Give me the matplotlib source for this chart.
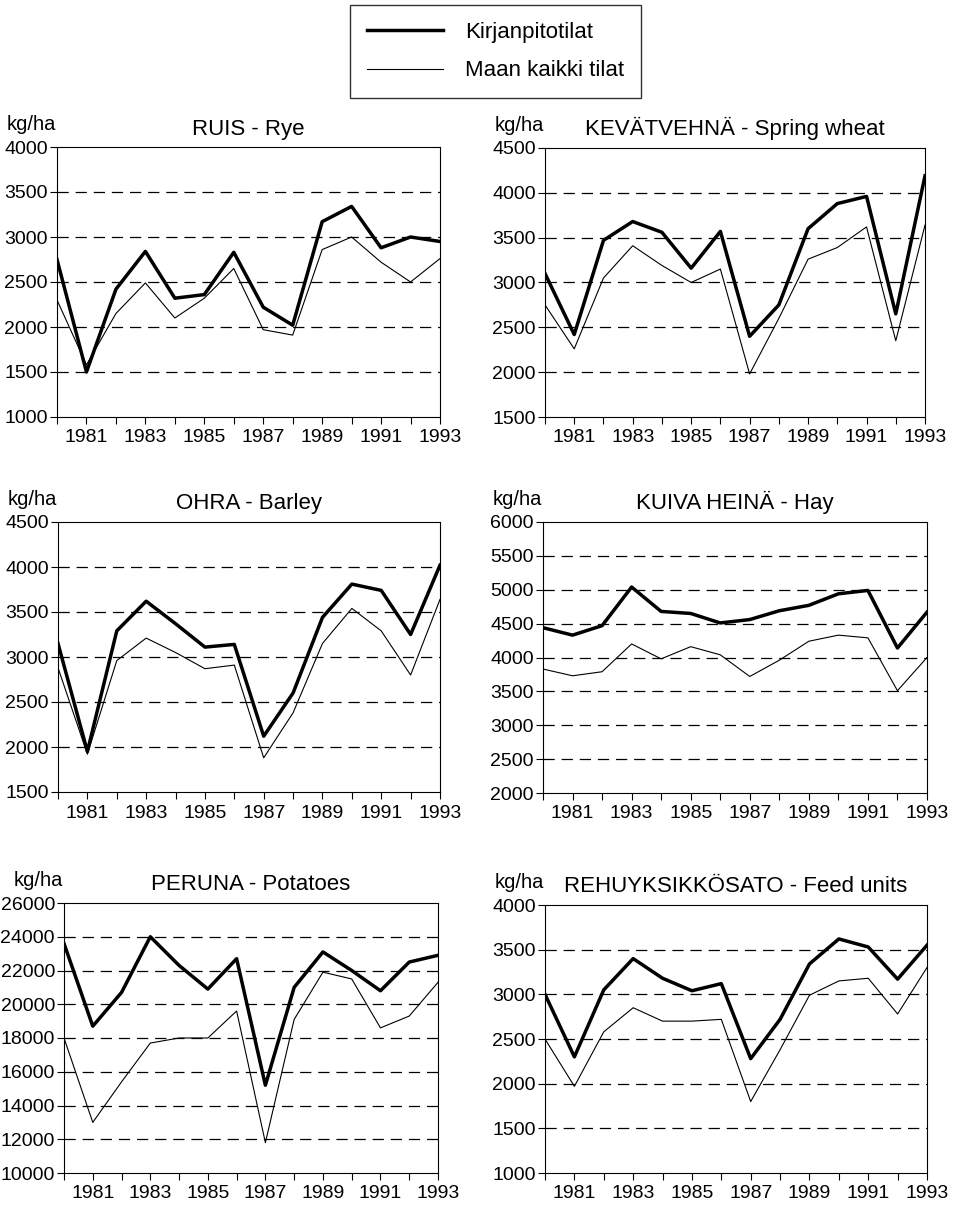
import matplotlib
matplotlib.use("Agg")
import matplotlib.pyplot as plt
from matplotlib.ticker import MultipleLocator

plt.rcParams['font.family'] = ['Liberation Sans', 'DejaVu Sans']

years = list(range(1980, 1994))
series_labels = ['Kirjanpitotilat', 'Maan kaikki tilat']

# RUIS - Rye
rye_book = [2750, 1500, 2420, 2840, 2320, 2360, 2830, 2220, 2020, 3170, 3340, 2880, 3000, 2950]
rye_all = [2300, 1580, 2150, 2490, 2100, 2320, 2650, 1970, 1910, 2860, 3000, 2720, 2500, 2760]

# KEVÄTVEHNÄ - Spring wheat
wheat_book = [3100, 2420, 3470, 3680, 3560, 3160, 3570, 2400, 2750, 3600, 3880, 3960, 2650, 4190]
wheat_all = [2750, 2260, 3050, 3410, 3190, 3000, 3150, 1980, 2600, 3260, 3390, 3620, 2350, 3640]

# OHRA - Barley
barley_book = [3150, 1950, 3290, 3620, 3370, 3110, 3140, 2120, 2600, 3440, 3810, 3740, 3250, 4020]
barley_all = [2880, 1920, 2960, 3210, 3050, 2870, 2910, 1880, 2380, 3150, 3540, 3290, 2800, 3640]

# KUIVA HEINÄ - Hay
hay_book = [4440, 4330, 4470, 5040, 4680, 4650, 4510, 4560, 4690, 4770, 4940, 4990, 4140, 4670]
hay_all = [3830, 3730, 3790, 4200, 3980, 4160, 4040, 3720, 3960, 4240, 4330, 4290, 3510, 4000]

# PERUNA - Potatoes
potato_book = [23600, 18700, 20700, 24000, 22300, 20900, 22700, 15200, 21000, 23100, 22000, 20800, 22500, 22900]
potato_all = [18000, 13000, 15400, 17700, 18000, 18000, 19600, 11800, 19100, 21900, 21500, 18600, 19300, 21300]

# REHUYKSIKKÖSATO - Feed units
feed_book = [3000, 2300, 3050, 3400, 3180, 3040, 3120, 2280, 2720, 3340, 3620, 3530, 3170, 3550]
feed_all = [2500, 1970, 2580, 2850, 2700, 2700, 2720, 1800, 2380, 2990, 3150, 3180, 2780, 3300]

panels = [
    ('RUIS - Rye', rye_book, rye_all, (1000, 4000), 500),
    ('KEVÄTVEHNÄ - Spring wheat', wheat_book, wheat_all, (1500, 4500), 500),
    ('OHRA - Barley', barley_book, barley_all, (1500, 4500), 500),
    ('KUIVA HEINÄ - Hay', hay_book, hay_all, (2000, 6000), 500),
    ('PERUNA - Potatoes', potato_book, potato_all, (10000, 26000), 2000),
    ('REHUYKSIKKÖSATO - Feed units', feed_book, feed_all, (1000, 4000), 500),
]

W, H = 959, 1206
# axes boxes in pixels: left, top, right, bottom
boxes = [
    (57, 147, 440, 417),
    (545, 148, 925, 417),
    (58, 522, 440, 792),
    (543, 522, 927, 793),
    (64, 903, 438, 1173),
    (545, 905, 927, 1173),
]

fig = plt.figure(figsize=(W / 100, H / 100), dpi=100)

handles = None
for (title, book, allf, ylim, step), (l, t, r, b) in zip(panels, boxes):
    ax = fig.add_axes([l / W, 1 - b / H, (r - l) / W, (b - t) / H])
    h1, = ax.plot(years, book, color='black', lw=2.5)
    h2, = ax.plot(years, allf, color='black', lw=0.8)
    handles = [h1, h2]

    ax.set_xlim(1980, 1993)
    ax.set_ylim(*ylim)
    ax.set_xticks(list(range(1981, 1994, 2)))
    ax.set_xticks(years, minor=True)
    ax.yaxis.set_major_locator(MultipleLocator(step))

    # dashed horizontal gridlines at interior ticks
    for v in range(ylim[0] + step, ylim[1], step):
        ax.axhline(v, color='black', lw=0.9, ls=(0, (9, 5.5)), zorder=0)

    ax.tick_params(axis='both', which='both', direction='out', labelsize=14,
                   length=5, width=0.8, pad=1.5)
    ax.tick_params(axis='x', which='major', pad=4)
    for s in ax.spines.values():
        s.set_linewidth(0.8)

    ax.set_title(title, fontsize=16, pad=9)
    ax.annotate('kg/ha', xy=(0, 1), xycoords='axes fraction',
                xytext=(-50, 17), textcoords='offset pixels',
                fontsize=14.5, ha='left', va='baseline')

leg = fig.legend(handles, series_labels, loc='upper center',
                 bbox_to_anchor=(495.5 / W, 1 - 5 / H), frameon=True,
                 fancybox=False, edgecolor='black', fontsize=16,
                 handlelength=3.4, handletextpad=1.0, labelspacing=0.8,
                 borderpad=0.75, borderaxespad=0)
leg.get_frame().set_linewidth(1.0)

fig.savefig('out.png', dpi=100)
